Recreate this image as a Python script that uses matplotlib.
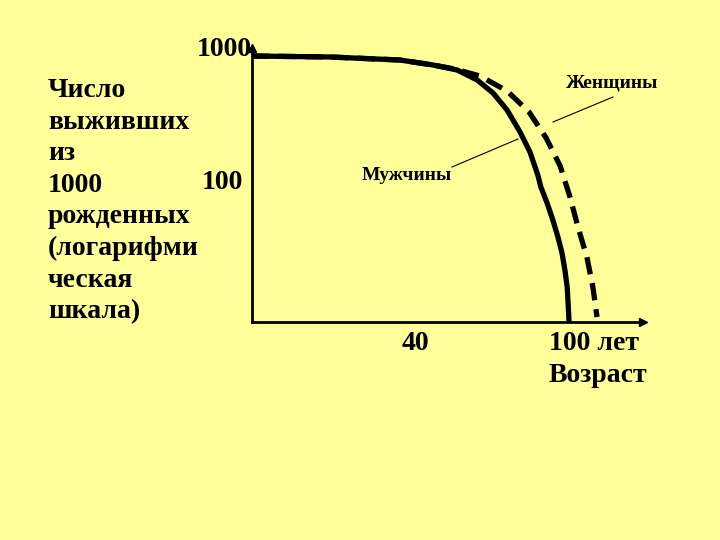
import matplotlib
matplotlib.use("Agg")
import matplotlib.pyplot as plt
from matplotlib.transforms import blended_transform_factory

# ---- data (schematic survival curves, log scale) ----
men_age = [0, 24.5, 46.5, 56.9, 64.5, 70.8, 75.8, 80.2, 84.3, 87.4, 89.9, 90.8, 92.8, 94.6,
           96.2, 97.5, 98.4, 99.1, 99.4, 99.7]
men_surv = [1000, 983, 933, 856, 785, 660, 527, 393, 268, 190, 127, 104, 78.5, 58.5,
            43.6, 32.9, 24.6, 18.4, 13.9, 10.0]

women_age = [0, 24.5, 46.5, 56.9, 63.8, 71.7, 80.2, 87.1, 92.5, 96.9, 100, 102.5, 105.3, 107.2, 108.5]
women_surv = [1000, 983, 933, 856, 798, 707, 546, 380, 242, 149, 87, 51.8, 30.8, 18.3, 10.9]

y_tick_values = [1000, 100]
y_tick_labels = ["1000", "100"]
x_tick_labels = ["40", "100 лет"]
x_title = "Возраст"
y_title_lines = ["Число", "выживших", "из", "1000", "рожденных", "(логарифми", "ческая", "шкала)"]
label_women = "Женщины"
label_men = "Мужчины"

BG = "#FFFF99"
FONT = ["Liberation Serif", "DejaVu Serif"]
FS = 20

fig = plt.figure(figsize=(7.2, 5.4), dpi=100, facecolor=BG)
W, H = 720, 540
L, R, T, B = 252, 643, 48, 322
ax = fig.add_axes([L / W, 1 - B / H, (R - L) / W, (B - T) / H])
ax.set_facecolor(BG)
ax.set_yscale("log")
ax.set_xlim(0, (R - L) / 3.18)
ax.set_ylim(10, 10 ** (3 + 8 / 133))

ax.plot(men_age, men_surv, color="black", lw=3.8, solid_joinstyle="round",
        solid_capstyle="butt", zorder=3)
ax.plot(women_age, women_surv, color="black", lw=3.8, dashes=(3.3, 1.7), zorder=3)

for s in ["top", "right"]:
    ax.spines[s].set_visible(False)
for s in ["left", "bottom"]:
    ax.spines[s].set_linewidth(2)
ax.set_xticks([])
ax.set_yticks([])
ax.minorticks_off()
ax.plot(1, 0, ">k", ms=6, transform=ax.transAxes, clip_on=False)
ax.plot(0, 1, "^k", ms=6, transform=ax.transAxes, clip_on=False)

def px(x, y):
    return x / W, 1 - y / H

tf = blended_transform_factory(fig.transFigure, ax.transData)
# y tick labels
ax.text(252 / W, y_tick_values[0], y_tick_labels[0], transform=tf, ha="right", va="baseline",
        fontsize=FS, fontweight="bold", family=FONT)
ax.text(243 / W, y_tick_values[1], y_tick_labels[1], transform=tf, ha="right", va="baseline",
        fontsize=FS, fontweight="bold", family=FONT)

# x tick labels
fig.text(*px(415, 343), x_tick_labels[0], ha="center", va="center", fontsize=FS, fontweight="bold", family=FONT)
fig.text(*px(549, 343), x_tick_labels[1], ha="left", va="center", fontsize=FS, fontweight="bold", family=FONT)
fig.text(*px(549, 376), x_title, ha="left", va="center", fontsize=FS, fontweight="bold", family=FONT)

# y title (multi-line, left)
for i, line in enumerate(y_title_lines):
    fig.text(*px(48, 97 + 31.6 * i), line, ha="left", va="baseline", fontsize=FS,
             fontweight="bold", family=FONT)

# curve labels with pointer lines
fig.text(*px(612, 83), label_women, ha="center", va="center", fontsize=14, fontweight="bold", family=FONT)
fig.add_artist(plt.Line2D([613 / W, 553 / W], [1 - 97 / H, 1 - 122 / H], color="black", lw=0.8))
fig.text(*px(407, 175), label_men, ha="center", va="center", fontsize=14, fontweight="bold", family=FONT)
fig.add_artist(plt.Line2D([452 / W, 518 / W], [1 - 167 / H, 1 - 139 / H], color="black", lw=0.8))

fig.savefig("out.png", dpi=100, facecolor=BG)
